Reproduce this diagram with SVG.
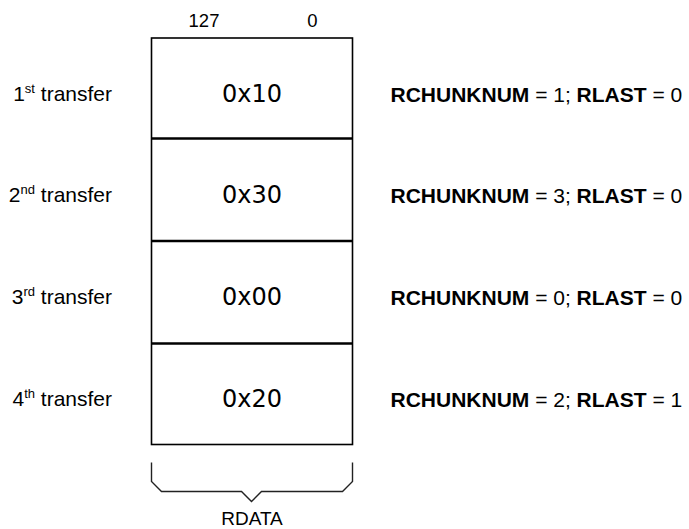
<svg xmlns="http://www.w3.org/2000/svg" width="689" height="529" viewBox="0 0 689 529">
<style>
.lbl{font-family:"Liberation Sans",Arial,sans-serif;font-size:21px;fill:#000;text-anchor:end}
.sup{font-size:13px}
.val{font-family:"DejaVu Sans",Verdana,sans-serif;font-size:24px;fill:#000;text-anchor:middle}
.rl{font-family:"Liberation Sans",Arial,sans-serif;font-size:21px;fill:#000}
.b{font-weight:bold}
.hdr{font-family:"Liberation Sans",Arial,sans-serif;font-size:18.5px;fill:#000;text-anchor:middle}
.box{fill:#fff;stroke:#000;stroke-width:1.6}
.div{stroke:#000;stroke-width:2.4}
.brace{fill:none;stroke:#222;stroke-width:1.4}
</style>
<rect width="689" height="529" fill="#fff"/>
<g id="header">
<text class="hdr" x="204" y="26.5">127</text>
<text class="hdr" x="312.5" y="26.5">0</text>
</g>
<g id="rdata-box">
<rect class="box" x="151.5" y="38" width="201" height="406.5"/>
<line class="div" x1="151.5" y1="138.5" x2="352.5" y2="138.5"/>
<line class="div" x1="151.5" y1="241" x2="352.5" y2="241"/>
<line class="div" x1="151.5" y1="343.5" x2="352.5" y2="343.5"/>
</g>
<g id="row1">
<text class="lbl" x="112" y="100.5">1<tspan class="sup" dy="-8">st</tspan><tspan dy="8"> transfer</tspan></text>
<text class="val" x="252" y="101.5">0x10</text>
<text class="rl" x="390.5" y="101.5"><tspan class="b">RCHUNKNUM</tspan> = 1; <tspan class="b">RLAST</tspan> = 0</text>
</g>
<g id="row2">
<text class="lbl" x="112" y="202">2<tspan class="sup" dy="-8">nd</tspan><tspan dy="8"> transfer</tspan></text>
<text class="val" x="252" y="203.2">0x30</text>
<text class="rl" x="390.5" y="203.2"><tspan class="b">RCHUNKNUM</tspan> = 3; <tspan class="b">RLAST</tspan> = 0</text>
</g>
<g id="row3">
<text class="lbl" x="112" y="303.5">3<tspan class="sup" dy="-8">rd</tspan><tspan dy="8"> transfer</tspan></text>
<text class="val" x="252" y="304.9">0x00</text>
<text class="rl" x="390.5" y="304.9"><tspan class="b">RCHUNKNUM</tspan> = 0; <tspan class="b">RLAST</tspan> = 0</text>
</g>
<g id="row4">
<text class="lbl" x="112" y="406">4<tspan class="sup" dy="-8">th</tspan><tspan dy="8"> transfer</tspan></text>
<text class="val" x="252" y="407.2">0x20</text>
<text class="rl" x="390.5" y="407.2"><tspan class="b">RCHUNKNUM</tspan> = 2; <tspan class="b">RLAST</tspan> = 1</text>
</g>
<g id="connectors">
<path class="brace" d="M151.5,462.5 V481.5 L161.5,491.5 H241.5 L251.5,501.5 L261.5,491.5 H342.5 L352.5,481.5 V462.5"/>
</g>
<g id="rdata-label">
<text class="hdr" x="252" y="525" style="font-size:19px">RDATA</text>
</g>
</svg>
